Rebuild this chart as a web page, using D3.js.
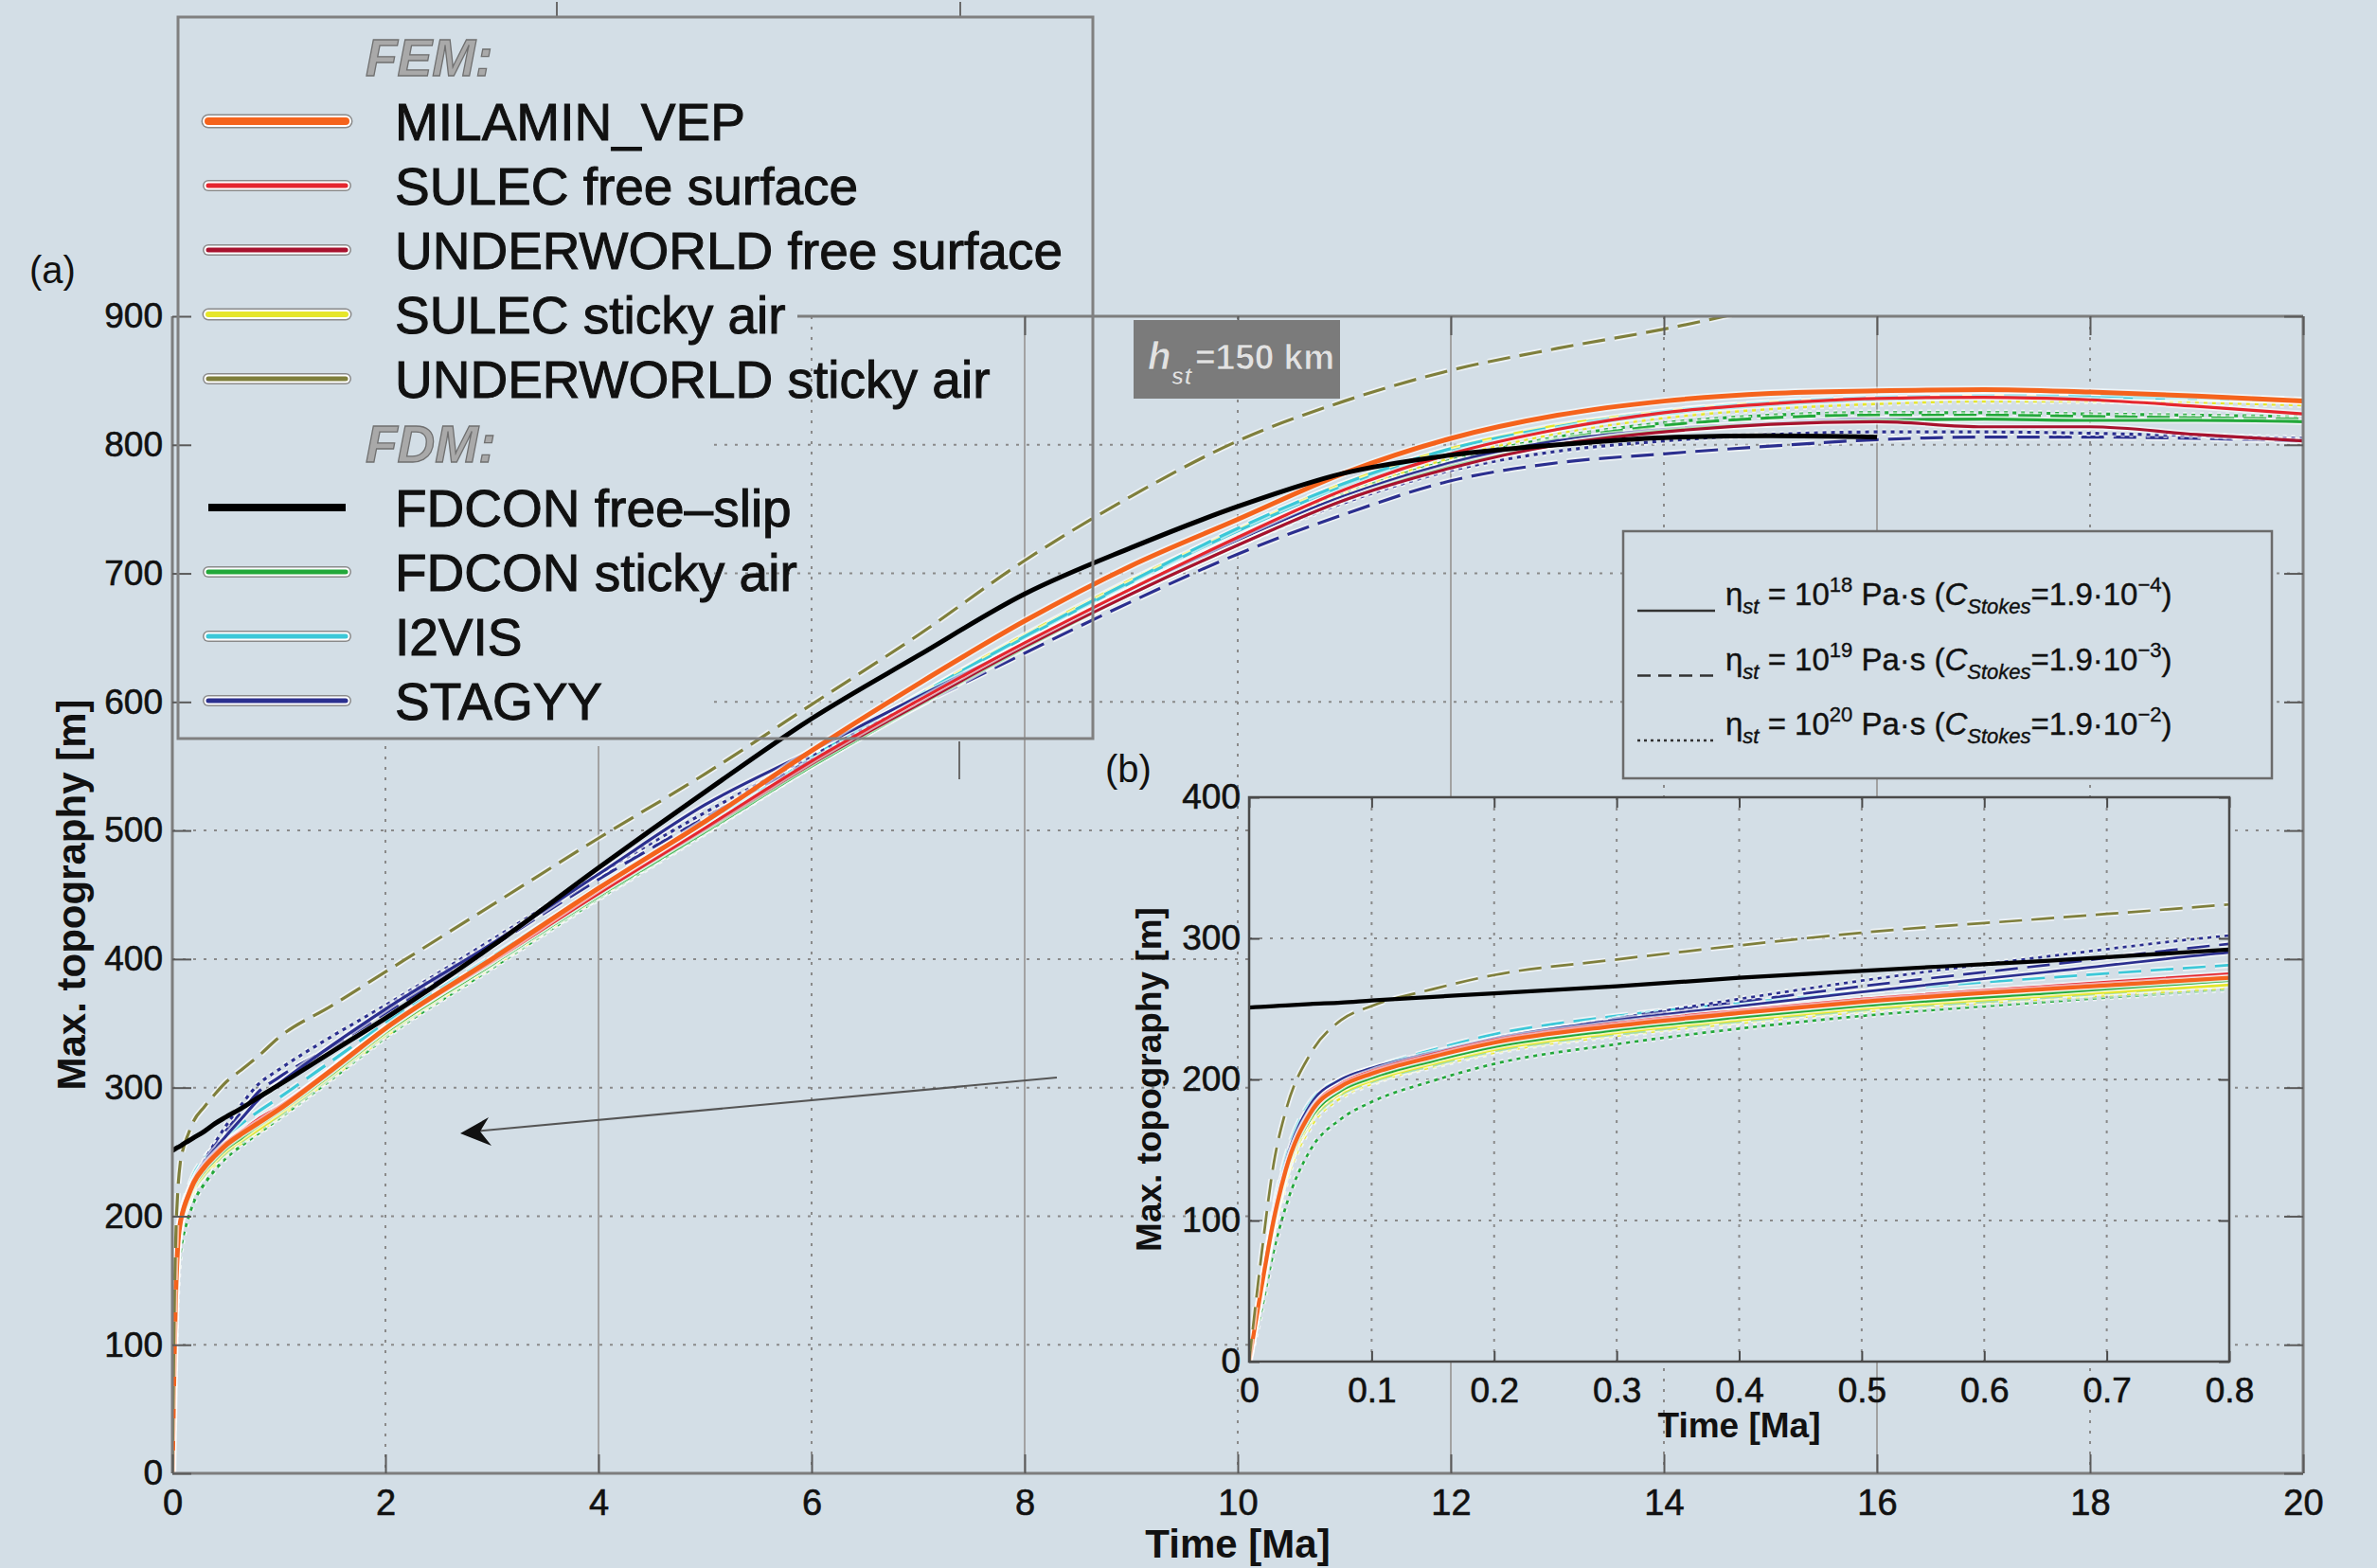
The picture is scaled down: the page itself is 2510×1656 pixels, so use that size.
<!DOCTYPE html>
<html>
<head>
<meta charset="utf-8">
<script src="https://cdn.jsdelivr.net/npm/d3@7"></script>
<style>
  html, body { margin: 0; padding: 0; background: #d3dee6; }
  svg { display: block; }
  text { font-family: "Liberation Sans", Arial, Helvetica, sans-serif; }
</style>
</head>
<body>
<script>
// ---------------- DATA ----------------
const times = [0, 0.01, 0.02, 0.03, 0.05, 0.075, 0.1, 0.15, 0.2, 0.3, 0.4, 0.5, 0.65, 0.8,
               1, 1.5, 2, 3, 4, 5, 6, 7, 8, 9, 10, 11, 12, 13, 14, 15, 16, 17, 18, 19, 20];

const milaminVEP            = [0, 52, 100, 136, 176, 195, 204, 216, 226, 238, 247, 255, 264, 272, 283, 314, 346, 400, 455, 507, 562, 614, 663, 706, 742, 778, 805, 823, 834, 840, 842, 843, 841, 838, 834];
const sulecFreeSurface      = [0, 54, 103, 138, 178, 197, 206, 218, 228, 240, 249, 257, 266, 275, 285, 315, 346, 398, 451, 502, 554, 601, 646, 688, 728, 765, 793, 812, 825, 832, 836, 837, 835, 830, 824];
const underworldFreeSurface = [0, 52, 101, 136, 175, 195, 204, 216, 226, 238, 247, 255, 264, 272, 283, 313, 345, 398, 451, 501, 552, 598, 643, 684, 722, 757, 782, 800, 810, 816, 818, 814, 814, 808, 803];
const sulecStickyAir        = [0, 46, 94, 130, 170, 190, 199, 211, 221, 233, 242, 250, 259, 267, 279, 310, 342, 396, 450, 502, 556, 605, 652, 695, 734, 770, 797, 815, 826, 833, 836, 838, 837, 836, 834];
const sulecStickyAirDotted  = [0, 44, 90, 126, 166, 187, 197, 209, 219, 231, 240, 248, 257, 265, 277, 308, 340, 394, 448, 500, 552, 600, 646, 688, 727, 762, 790, 809, 821, 828, 832, 834, 834, 833, 831];
const underworldStickyAir   = [0, 75, 140, 178, 218, 242, 252, 264, 274, 285, 295, 304, 314, 324, 339, 364, 390, 442, 494, 544, 598, 652, 710, 760, 803, 834, 858, 875, 890, 908, null, null, null, null, null];
const fdconFreeSlip         = [251, 251.5, 252, 252.5, 253.5, 254.5, 256, 258.5, 261, 266, 272, 277, 284, 292, 302, 328, 354, 410, 471, 530, 587, 636, 684, 720, 752, 778, 792, 800, 805.6, 807, 806, null, null, null, null];
const fdconStickyAir        = [0, 49, 97, 133, 172, 192, 201, 213, 223, 235, 244, 252, 261, 270, 281, 311, 343, 396, 449, 499, 550, 597, 642, 684, 722, 757, 783, 800, 811, 816, 819, 820, 819, 819, 818];
const fdconStickyAirDashed  = [0, 47, 95, 131, 169, 189, 198, 210, 220, 232, 241, 249, 258, 267, 278, 309, 341, 395, 448, 499, 551, 598, 644, 686, 725, 760, 786, 804, 815, 821, 823, 823, 822, 821, 820];
const fdconStickyAirDotted  = [0, 36, 78, 110, 150, 172, 184, 199, 211, 225, 236, 245, 255, 264, 276, 307, 339, 393, 447, 498, 550, 598, 645, 688, 727, 762, 788, 806, 817, 823, 825, 825, 824, 823, 822];
const i2vis                 = [0, 52, 101, 137, 177, 196, 205, 217, 227, 239, 248, 256, 265, 273, 284, 315, 347, 400, 453, 504, 556, 604, 650, 693, 733, 768, 795, 812, 824, 831, 835, 837, 837, 836, 834];
const i2visDashed           = [0, 56, 108, 145, 184, 200, 208, 221, 232, 245, 254, 262, 272, 281, 292, 321, 350, 402, 455, 506, 557, 605, 651, 694, 735, 770, 797, 814, 826, 833, 837, 838, 838, 837, 835];
const stagyy                = [0, 56, 106, 142, 182, 200, 208, 219, 229, 242, 252, 262, 276, 290, 303, 333, 361, 412, 466, 520, 562, 604, 645, 686, 726, 760, 786, 803, 812, 817, 820, 820, null, null, null];
const stagyyDashed          = [0, 52, 102, 138, 177, 196, 205, 217, 228, 243, 255, 266, 281, 296, 308, 332, 358, 410, 462, 510, 555, 597, 638, 678, 715, 746, 772, 786, 793, 799, 804, 806, 806, 805, 803];
const stagyyDotted          = [0, 48, 96, 132, 172, 192, 202, 215, 226, 243, 257, 270, 287, 302, 314, 340, 364, 415, 466, 514, 558, 601, 643, 684, 722, 755, 780, 795, 803, 808, 810, 810, 809, 807, 805];

const legendLabels = ["MILAMIN_VEP", "SULEC free surface", "UNDERWORLD free surface", "SULEC sticky air",
                      "UNDERWORLD sticky air", "FDCON free\u2013slip", "FDCON sticky air", "I2VIS", "STAGYY"];
const legendGroups = ["FEM:", "FDM:"];
const mainXTicks = [0, 2, 4, 6, 8, 10, 12, 14, 16, 18, 20];
const mainYTicks = [0, 100, 200, 300, 400, 500, 600, 700, 800, 900];
const insetXTicks = [0, 0.1, 0.2, 0.3, 0.4, 0.5, 0.6, 0.7, 0.8];
const insetXTickLabels = ["0", "0.1", "0.2", "0.3", "0.4", "0.5", "0.6", "0.7", "0.8"];
const insetYTicks = [0, 100, 200, 300, 400];
const viscosityExponents = ["18", "19", "20"];
const stokesExponents = ["\u22124", "\u22123", "\u22122"];

// ---------------- STYLE ----------------
const W = 2510, H = 1656;
const BG = "#d3dee6";
const C = {
  orange: "#f5631c", red: "#e5262e", darkred: "#a8122e", yellow: "#e6e62a",
  olive: "#7f7f3c", black: "#000000", green: "#22a83a", cyan: "#3cc8d8", navy: "#2b2f8f"
};
const DASH = "24,10", DOT = "4,5";
const FONT = '"Liberation Sans", Arial, Helvetica, sans-serif';
const INK = "#111";

const series = [
  {d: fdconStickyAirDotted, c: C.green, dash: DOT},
  {d: sulecStickyAirDotted, c: C.yellow, dash: DOT},
  {d: fdconStickyAirDashed, c: C.green, dash: DASH},
  {d: sulecStickyAir, c: C.yellow},
  {d: i2vis, c: C.cyan},
  {d: i2visDashed, c: C.cyan, dash: DASH},
  {d: stagyyDashed, c: C.navy, dash: DASH},
  {d: stagyyDotted, c: C.navy, dash: DOT},
  {d: stagyy, c: C.navy},
  {d: fdconStickyAir, c: C.green},
  {d: underworldFreeSurface, c: C.darkred},
  {d: sulecFreeSurface, c: C.red},
  {d: milaminVEP, c: C.orange, thick: true},
  {d: underworldStickyAir, c: C.olive, dash: DASH},
  {d: fdconFreeSlip, c: C.black, thick: true, noHalo: true}
];

const legendStyles = [
  {c: C.orange, w: 8}, {c: C.red, w: 5}, {c: C.darkred, w: 5}, {c: C.yellow, w: 6}, {c: C.olive, w: 5},
  {c: C.black, w: 8, plain: true}, {c: C.green, w: 5}, {c: C.cyan, w: 5}, {c: C.navy, w: 5}
];

// ---------------- SVG ----------------
const svg = d3.select("body").append("svg").attr("width", W).attr("height", H);
svg.append("rect").attr("width", W).attr("height", H).attr("fill", BG);

const x = d3.scaleLinear().domain([0, 20]).range([182, 2432]);
const y = d3.scaleLinear().domain([0, 900]).range([1556, 334]);
const xi = d3.scaleLinear().domain([0, 0.8]).range([1319, 2354]);
const yi = d3.scaleLinear().domain([0, 400]).range([1438, 842]);

const defs = svg.append("defs");
defs.append("clipPath").attr("id", "clipMain").append("rect")
  .attr("x", x(0)).attr("y", y(900)).attr("width", x(20) - x(0)).attr("height", y(0) - y(900));
defs.append("clipPath").attr("id", "clipInset").append("rect")
  .attr("x", xi(0)).attr("y", yi(400)).attr("width", xi(0.8) - xi(0)).attr("height", yi(0) - yi(400));

// ---- main grid ----
const grid = svg.append("g");
const GRID_DOT = "#8a8a8a", GRID_SOLID = "#a2a2a2";
[2, 6, 10, 14, 18].forEach(t => {
  grid.append("line").attr("x1", x(t)).attr("x2", x(t))
    .attr("y1", t === 2 ? 788 : y(900)).attr("y2", y(0))
    .attr("stroke", GRID_DOT).attr("stroke-width", 2).attr("stroke-dasharray", "3,8");
});
[4, 8, 12, 16].forEach(t => {
  grid.append("line").attr("x1", x(t)).attr("x2", x(t))
    .attr("y1", t === 4 ? 788 : y(900)).attr("y2", y(0))
    .attr("stroke", GRID_SOLID).attr("stroke-width", 2);
});
[100, 200, 300, 400, 500, 600, 700, 800].forEach(v => {
  grid.append("line").attr("x1", v >= 600 ? 754 : x(0)).attr("x2", x(20))
    .attr("y1", y(v)).attr("y2", y(v))
    .attr("stroke", GRID_DOT).attr("stroke-width", 2).attr("stroke-dasharray", "3,8");
});

// ---- curves ----
function drawCurves(g, sx, sy, scale) {
  const line = d3.line()
    .defined(p => p[1] !== null)
    .x(p => sx(p[0])).y(p => sy(p[1]))
    .curve(d3.curveMonotoneX);
  series.forEach(s => {
    const pts = times.map((t, i) => [t, s.d[i]]);
    const w = (s.thick ? 5 : 3.2) * scale;
    if (!s.noHalo) {
      g.append("path").attr("d", line(pts)).attr("fill", "none")
        .attr("stroke", "#ffffff").attr("stroke-opacity", 0.6)
        .attr("stroke-width", w + 3.5).attr("stroke-dasharray", s.dash || null)
        .attr("stroke-linejoin", "round");
    }
    g.append("path").attr("d", line(pts)).attr("fill", "none")
      .attr("stroke", s.c).attr("stroke-width", w)
      .attr("stroke-dasharray", s.dash || null)
      .attr("stroke-linejoin", "round");
  });
}
drawCurves(svg.append("g").attr("clip-path", "url(#clipMain)"), x, y, 1);

// ---- main spines & ticks ----
const SPINE = "#7d7d7d";
const ax = svg.append("g");
ax.append("line").attr("x1", x(0)).attr("x2", x(20)).attr("y1", y(0)).attr("y2", y(0)).attr("stroke", SPINE).attr("stroke-width", 3);
ax.append("line").attr("x1", x(0)).attr("x2", x(0)).attr("y1", y(0)).attr("y2", y(900)).attr("stroke", SPINE).attr("stroke-width", 3);
ax.append("line").attr("x1", x(20)).attr("x2", x(20)).attr("y1", y(0)).attr("y2", y(900)).attr("stroke", SPINE).attr("stroke-width", 3);
ax.append("line").attr("x1", 842).attr("x2", x(20)).attr("y1", y(900)).attr("y2", y(900)).attr("stroke", SPINE).attr("stroke-width", 3);

const bottomAxis = svg.append("g").attr("transform", `translate(0,${y(0)})`)
  .call(d3.axisBottom(x).tickValues(mainXTicks).tickSize(-20).tickSizeOuter(0).tickPadding(17).tickFormat(d3.format("d")));
const leftAxis = svg.append("g").attr("transform", `translate(${x(0)},0)`)
  .call(d3.axisLeft(y).tickValues(mainYTicks).tickSize(-20).tickSizeOuter(0).tickPadding(10).tickFormat(d3.format("d")));
const rightAxis = svg.append("g").attr("transform", `translate(${x(20)},0)`)
  .call(d3.axisRight(y).tickValues(mainYTicks).tickSize(-20).tickSizeOuter(0).tickFormat(""));
const topAxis = svg.append("g").attr("transform", `translate(0,${y(900)})`)
  .call(d3.axisTop(x).tickValues(mainXTicks.filter(t => t >= 8)).tickSize(-20).tickSizeOuter(0).tickFormat(""));
[bottomAxis, leftAxis, rightAxis, topAxis].forEach(g => {
  g.select(".domain").remove();
  g.selectAll(".tick line").attr("stroke", "#5a5a5a").attr("stroke-width", 2);
  g.selectAll(".tick text").attr("font-size", 38).attr("fill", INK).attr("font-family", FONT)
    .attr("stroke", INK).attr("stroke-width", 0.6);
});
leftAxis.selectAll(".tick text").attr("font-size", 37);

// axis labels
svg.append("text").attr("x", x(10)).attr("y", 1645).attr("text-anchor", "middle")
  .attr("font-size", 42).attr("font-weight", "bold").attr("fill", INK).text("Time [Ma]");
svg.append("text").attr("transform", `translate(90,${(y(0) + y(900)) / 2}) rotate(-90)`)
  .attr("text-anchor", "middle").attr("font-size", 42).attr("font-weight", "bold").attr("fill", INK)
  .text("Max. topography [m]");

// small stray ticks of the original figure
[[588, 2, 588, 18], [1014, 2, 1014, 18], [1013, 783, 1013, 823]].forEach(l => {
  svg.append("line").attr("x1", l[0]).attr("y1", l[1]).attr("x2", l[2]).attr("y2", l[3])
    .attr("stroke", "#6a6a6a").attr("stroke-width", 2);
});

// panel labels
svg.append("text").attr("x", 31).attr("y", 299).attr("font-size", 40).attr("fill", INK).text("(a)");
svg.append("text").attr("x", 1167).attr("y", 826).attr("font-size", 40).attr("fill", INK).text("(b)");

// arrow
svg.append("line").attr("x1", 1116).attr("y1", 1138).attr("x2", 500).attr("y2", 1195)
  .attr("stroke", "#555").attr("stroke-width", 2.2);
svg.append("path").attr("d", "M486,1197 L516,1180 L507,1195 L519,1210 Z").attr("fill", INK);

// ---- h_st box ----
svg.append("rect").attr("x", 1197).attr("y", 338).attr("width", 218).attr("height", 83).attr("fill", "#7b7b7b");
const hst = svg.append("text").attr("y", 390).attr("fill", "#e2e2e2").attr("font-weight", "bold")
  .attr("stroke", "#666").attr("stroke-width", 0.6);
hst.append("tspan").attr("x", 1212).attr("font-size", 40).attr("font-style", "italic").text("h");
hst.append("tspan").attr("dy", 16).attr("font-size", 25).attr("font-style", "italic").text("st");
hst.append("tspan").attr("dy", -16).attr("x", 1262).attr("font-size", 37).text("=150 km");

// ---- viscosity legend ----
svg.append("rect").attr("x", 1714).attr("y", 561).attr("width", 685).attr("height", 261)
  .attr("fill", BG).attr("stroke", "#6b6b6b").attr("stroke-width", 2.5);
const viscDash = [null, "14,8", "3,4"];
viscosityExponents.forEach((e, i) => {
  const base = 639 + i * 68.5;
  svg.append("line").attr("x1", 1729).attr("x2", 1811).attr("y1", base + 6).attr("y2", base + 6)
    .attr("stroke", "#333").attr("stroke-width", 2.5).attr("stroke-dasharray", viscDash[i]);
  const t = svg.append("text").attr("x", 1822).attr("y", base).attr("font-size", 33).attr("fill", INK)
    .attr("stroke", INK).attr("stroke-width", 0.4);
  t.append("tspan").text("\u03b7");
  t.append("tspan").attr("dy", 9).attr("font-size", 22).attr("font-style", "italic").text("st");
  t.append("tspan").attr("dy", -9).text(" = 10");
  t.append("tspan").attr("dy", -14).attr("font-size", 22).text(e);
  t.append("tspan").attr("dy", 14).text(" Pa\u00b7s (");
  t.append("tspan").attr("font-style", "italic").text("C");
  t.append("tspan").attr("dy", 9).attr("font-size", 22).attr("font-style", "italic").text("Stokes");
  t.append("tspan").attr("dy", -9).text("=1.9\u00b710");
  t.append("tspan").attr("dy", -14).attr("font-size", 22).text(stokesExponents[i]);
  t.append("tspan").attr("dy", 14).text(")");
});

// ---- model legend (transparent box) ----
svg.append("rect").attr("x", 188).attr("y", 18).attr("width", 966).attr("height", 762)
  .attr("fill", "none").attr("stroke", "#808080").attr("stroke-width", 3);
const groupBase = [80, 488];
legendGroups.forEach((g, i) => {
  svg.append("text").attr("x", 386).attr("y", groupBase[i]).attr("font-size", 55)
    .attr("font-style", "italic").attr("font-weight", "bold")
    .attr("fill", "#a9a9a9").attr("stroke", "#707070").attr("stroke-width", 1.3).text(g);
});
const legendBase = [148, 216, 284, 352, 420, 556, 624, 692, 760];
legendLabels.forEach((lab, i) => {
  const b = legendBase[i];
  const st = legendStyles[i];
  const ly = b - 20;
  if (!st.plain) {
    svg.append("line").attr("x1", 220).attr("x2", 365).attr("y1", ly).attr("y2", ly)
      .attr("stroke", "#8a8a8a").attr("stroke-width", st.w + 7).attr("stroke-linecap", "round");
    svg.append("line").attr("x1", 220).attr("x2", 365).attr("y1", ly).attr("y2", ly)
      .attr("stroke", "#ffffff").attr("stroke-width", st.w + 4).attr("stroke-linecap", "round");
  }
  svg.append("line").attr("x1", 220).attr("x2", 365).attr("y1", ly).attr("y2", ly)
    .attr("stroke", st.c).attr("stroke-width", st.w).attr("stroke-linecap", st.plain ? "butt" : "round");
  svg.append("text").attr("x", 417).attr("y", b).attr("font-size", 55).attr("fill", INK)
    .attr("stroke", INK).attr("stroke-width", 1).text(lab);
});

// ---- inset (b) ----
const ins = svg.append("g");
ins.append("rect").attr("x", xi(0)).attr("y", yi(400)).attr("width", xi(0.8) - xi(0)).attr("height", yi(0) - yi(400))
  .attr("fill", BG);
insetXTicks.slice(1, -1).forEach(t => {
  ins.append("line").attr("x1", xi(t)).attr("x2", xi(t)).attr("y1", yi(400)).attr("y2", yi(0))
    .attr("stroke", GRID_DOT).attr("stroke-width", 2).attr("stroke-dasharray", "3,8");
});
insetYTicks.slice(1, -1).forEach(v => {
  ins.append("line").attr("x1", xi(0)).attr("x2", xi(0.8)).attr("y1", yi(v)).attr("y2", yi(v))
    .attr("stroke", GRID_DOT).attr("stroke-width", 2).attr("stroke-dasharray", "3,8");
});
drawCurves(ins.append("g").attr("clip-path", "url(#clipInset)"), xi, yi, 0.85);
ins.append("rect").attr("x", xi(0)).attr("y", yi(400)).attr("width", xi(0.8) - xi(0)).attr("height", yi(0) - yi(400))
  .attr("fill", "none").attr("stroke", "#4a4a4a").attr("stroke-width", 2.5);

const ib = ins.append("g").attr("transform", `translate(0,${yi(0)})`)
  .call(d3.axisBottom(xi).tickValues(insetXTicks).tickSize(-11).tickSizeOuter(0).tickPadding(17)
    .tickFormat((d, i) => insetXTickLabels[i]));
const il = ins.append("g").attr("transform", `translate(${xi(0)},0)`)
  .call(d3.axisLeft(yi).tickValues(insetYTicks).tickSize(-11).tickSizeOuter(0).tickPadding(9).tickFormat(d3.format("d")));
const it = ins.append("g").attr("transform", `translate(0,${yi(400)})`)
  .call(d3.axisTop(xi).tickValues(insetXTicks).tickSize(-11).tickSizeOuter(0).tickFormat(""));
const ir = ins.append("g").attr("transform", `translate(${xi(0.8)},0)`)
  .call(d3.axisRight(yi).tickValues(insetYTicks).tickSize(-11).tickSizeOuter(0).tickFormat(""));
[ib, il, it, ir].forEach(g => {
  g.select(".domain").remove();
  g.selectAll(".tick line").attr("stroke", "#4a4a4a").attr("stroke-width", 2);
  g.selectAll(".tick text").attr("font-size", 37).attr("fill", INK).attr("font-family", FONT)
    .attr("stroke", INK).attr("stroke-width", 0.6);
});
ins.append("text").attr("x", (xi(0) + xi(0.8)) / 2).attr("y", 1518).attr("text-anchor", "middle")
  .attr("font-size", 37).attr("font-weight", "bold").attr("fill", INK).text("Time [Ma]");
ins.append("text").attr("transform", `translate(1226,${(yi(0) + yi(400)) / 2}) rotate(-90)`)
  .attr("text-anchor", "middle").attr("font-size", 37).attr("font-weight", "bold").attr("fill", INK)
  .text("Max. topography [m]");
</script>
</body>
</html>
